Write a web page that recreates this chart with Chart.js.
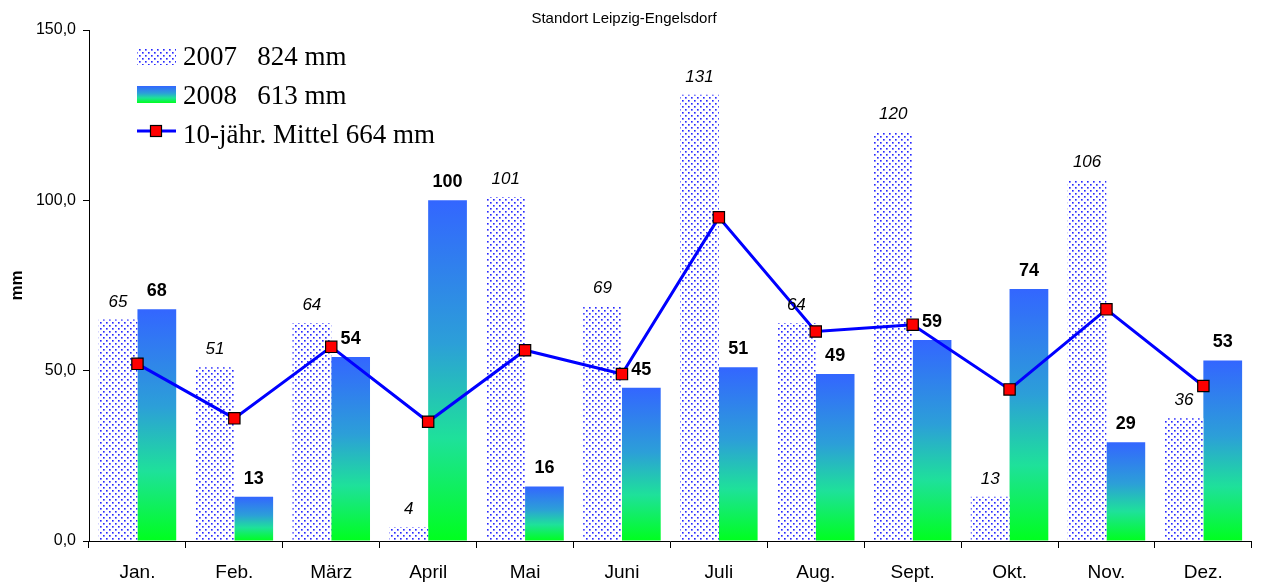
<!DOCTYPE html>
<html>
<head>
<meta charset="utf-8">
<script src="https://cdn.jsdelivr.net/npm/chart.js@4/dist/chart.umd.min.js"></script>
<style>
  html, body { margin: 0; padding: 0; background: #fff; }
  #wrap { width: 1261px; height: 585px; }
</style>
</head>
<body>
<div id="wrap"><canvas id="c" width="1261" height="585"></canvas></div>
<script>
const chartTitle = 'Standort Leipzig-Engelsdorf';
const yAxisTitle = 'mm';
const categories = ['Jan.', 'Feb.', 'März', 'April', 'Mai', 'Juni', 'Juli', 'Aug.', 'Sept.', 'Okt.', 'Nov.', 'Dez.'];
const label2007 = '2007   824 mm';
const label2008 = '2008   613 mm';
const labelMean = '10-jähr. Mittel 664 mm';
const values2007 = [65, 51, 64, 4, 101, 69, 131, 64, 120, 13, 106, 36];
const values2008 = [68, 13, 54, 100, 16, 45, 51, 49, 59, 74, 29, 53];
const valuesMean = [52, 36, 57, 35, 56, 49, 95, 61.5, 63.5, 44.5, 68, 45.5];
const yTicks = [0, 50, 100, 150];

function makeDotPattern() {
  const c = document.createElement('canvas');
  c.width = 6; c.height = 6;
  const p = c.getContext('2d');
  p.fillStyle = '#ffffff';
  p.fillRect(0, 0, 6, 6);
  const dot = (x, y) => {
    p.fillStyle = 'rgb(40,40,255)';
    p.fillRect(x, y, 1, 1);
    p.fillStyle = 'rgb(120,120,255)';
    p.fillRect(x + 1, y, 1, 1);
    p.fillRect(x, y + 1, 1, 1);
    p.fillStyle = 'rgb(165,165,255)';
    p.fillRect(x + 1, y + 1, 1, 1);
  };
  dot(1, 1);
  dot(4, 4);
  return p.createPattern(c, 'repeat');
}
const dotPattern = makeDotPattern();

function addGradStops(g) {
  g.addColorStop(0, '#3366ff');
  g.addColorStop(0.42, '#2c9fd8');
  g.addColorStop(0.7, '#1ee19a');
  g.addColorStop(1, '#00ff1e');
  return g;
}

function gradientFill(c) {
  const chart = c.chart;
  if (!chart.chartArea || c.type !== 'data') return '#3366ff';
  const y = chart.scales.y;
  const top = y.getPixelForValue(c.raw);
  const bottom = y.getPixelForValue(0);
  if (bottom - top < 1) return '#00ff1e';
  return addGradStops(chart.ctx.createLinearGradient(0, top, 0, bottom));
}

const decoPlugin = {
  id: 'deco',
  afterDatasetsDraw(chart) {
    const ctx = chart.ctx;
    ctx.save();
    // value labels
    chart.data.datasets.forEach((ds, di) => {
      if (ds.type === 'line') return;
      const meta = chart.getDatasetMeta(di);
      ctx.fillStyle = '#000';
      ctx.textAlign = 'center';
      ctx.textBaseline = 'alphabetic';
      ctx.font = ds.labelFont;
      meta.data.forEach((el, i) => {
        ctx.fillText(String(ds.data[i]), el.x, el.y - 13);
      });
    });
    // title
    ctx.font = '15px "Liberation Sans", Arial, sans-serif';
    ctx.fillStyle = '#000';
    ctx.textAlign = 'center';
    ctx.fillText(chartTitle, 624, 23);
    // legend
    const lx = 137, lw = 39, tx = 183;
    ctx.textAlign = 'left';
    ctx.font = '27px "Liberation Serif", "Times New Roman", serif';
    // row 1
    ctx.fillStyle = dotPattern;
    ctx.fillRect(lx, 48, lw, 17);
    ctx.fillStyle = '#000';
    ctx.fillText(label2007, tx, 65);
    // row 2
    ctx.fillStyle = addGradStops(ctx.createLinearGradient(0, 86, 0, 103));
    ctx.fillRect(lx, 86, lw, 17);
    ctx.fillStyle = '#000';
    ctx.fillText(label2008, tx, 104);
    // row 3
    ctx.strokeStyle = '#0000ff';
    ctx.lineWidth = 3;
    ctx.beginPath(); ctx.moveTo(lx, 131); ctx.lineTo(lx + lw, 131); ctx.stroke();
    ctx.fillStyle = '#ff0000';
    ctx.fillRect(150.5, 125.5, 11, 11);
    ctx.strokeStyle = '#000'; ctx.lineWidth = 1.2;
    ctx.strokeRect(150.5, 125.5, 11, 11);
    ctx.fillStyle = '#000';
    ctx.fillText(labelMean, tx, 143);
    ctx.restore();
  }
};

new Chart(document.getElementById('c'), {
  type: 'bar',
  data: {
    labels: categories,
    datasets: [
      {
        type: 'line',
        label: labelMean,
        data: valuesMean,
        order: 0,
        borderColor: '#0000ff',
        borderWidth: 3,
        tension: 0,
        pointStyle: 'rect',
        pointRadius: 8,
        pointBackgroundColor: '#ff0000',
        pointBorderColor: '#000000',
        pointBorderWidth: 1.2,
        fill: false
      },
      {
        label: label2007,
        data: values2007,
        order: 1,
        backgroundColor: dotPattern,
        borderWidth: 0,
        categoryPercentage: 0.8,
        barPercentage: 1.0,
        labelFont: 'italic 17px "Liberation Sans", Arial, sans-serif'
      },
      {
        label: label2008,
        data: values2008,
        order: 2,
        backgroundColor: gradientFill,
        borderWidth: 0,
        categoryPercentage: 0.8,
        barPercentage: 1.0,
        labelFont: 'bold 18px "Liberation Sans", Arial, sans-serif'
      }
    ]
  },
  options: {
    responsive: false,
    animation: false,
    layout: { padding: { top: 30, right: 9, bottom: 0, left: 0 } },
    plugins: {
      legend: { display: false },
      title: { display: false },
      tooltip: { enabled: false }
    },
    scales: {
      x: {
        type: 'category',
        offset: true,
        grid: { display: true, drawOnChartArea: false, offset: true, tickLength: 7, color: '#000', lineWidth: 1 },
        border: { display: true, color: '#000', width: 1 },
        ticks: { color: '#000', font: { size: 19, family: '"Liberation Sans", Arial, sans-serif' }, padding: 13, maxRotation: 0 },
        afterFit(s) { s.height = 44; }
      },
      y: {
        min: 0,
        max: 150,
        afterBuildTicks(s) { s.ticks = yTicks.map(v => ({ value: v })); },
        grid: { display: true, drawOnChartArea: false, tickLength: 6, color: '#000', lineWidth: 1 },
        border: { display: true, color: '#000', width: 1 },
        ticks: {
          color: '#000',
          padding: 7,
          font: { size: 16, family: '"Liberation Sans", Arial, sans-serif' },
          callback: (v) => Number(v).toFixed(1).replace('.', ',')
        },
        title: {
          display: true,
          text: yAxisTitle,
          color: '#000',
          font: { size: 17, weight: 'bold', family: '"Liberation Sans", Arial, sans-serif' },
          padding: { top: 7, bottom: 0 }
        },
        afterFit(s) { s.width = 89; }
      }
    }
  },
  plugins: [decoPlugin]
});
</script>
</body>
</html>
